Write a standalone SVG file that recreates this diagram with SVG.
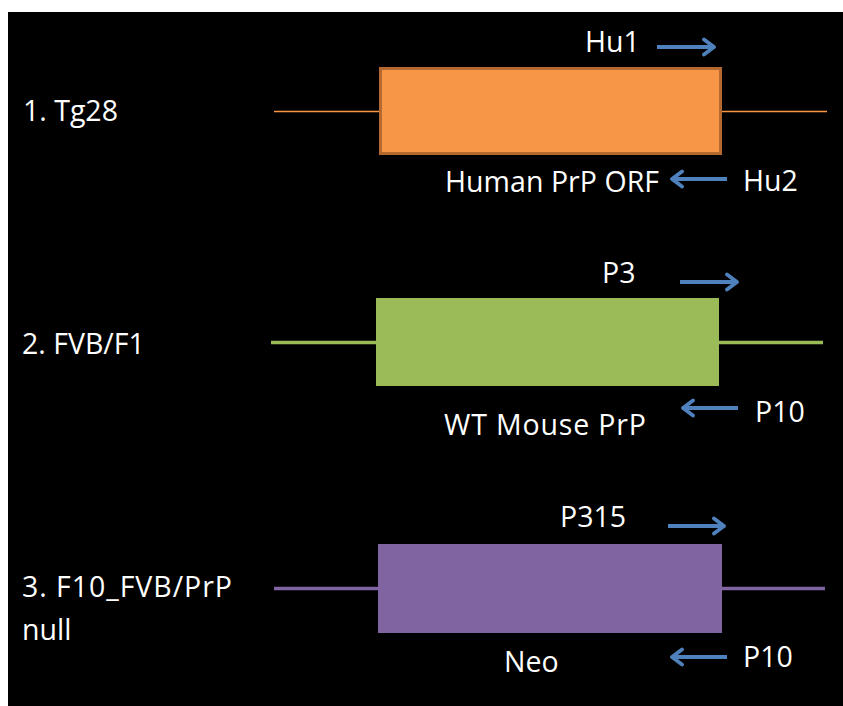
<svg xmlns="http://www.w3.org/2000/svg" width="843" height="706" viewBox="0 0 843 706">
  <defs>
    <style>
      .lbl { font-family: "Open Sans", "Liberation Sans", sans-serif; font-size: 28.5px; fill: #ffffff; }
      .arrow { stroke: #4f81bd; stroke-width: 4; fill: none; marker-end: url(#head); }
    </style>
    <marker id="head" viewBox="0 0 16 20" refX="13" refY="10" markerWidth="16" markerHeight="20" markerUnits="userSpaceOnUse" orient="auto">
      <path d="M3 2.5 L13 10 L3 17.5" fill="none" stroke="#4f81bd" stroke-width="3.8" stroke-linecap="round" stroke-linejoin="round"/>
    </marker>
  </defs>
  <rect x="0" y="0" width="843" height="706" fill="#ffffff"/>
  <rect x="8" y="12" width="835" height="694" fill="#000000"/>

  <!-- 1. Tg28 construct -->
  <g id="tg28">
    <line x1="274" y1="111.5" x2="827" y2="111.5" stroke="#f79646" stroke-width="1.5"/>
    <rect x="380.5" y="68.5" width="340" height="85" fill="#f79646" stroke="#b5692f" stroke-width="3"/>
    <text class="lbl" x="23" y="121">1. Tg28</text>
    <text class="lbl" x="445" y="192" textLength="214">Human PrP ORF</text>
    <text class="lbl" x="585" y="52">Hu1</text>
    <text class="lbl" x="743" y="191">Hu2</text>
  </g>

  <!-- 2. FVB/F1 construct -->
  <g id="fvb">
    <line x1="271" y1="342.5" x2="823" y2="342.5" stroke="#9bbb59" stroke-width="3.5"/>
    <rect x="376" y="298" width="343" height="88" fill="#9bbb59"/>
    <text class="lbl" x="22" y="354">2. FVB/F1</text>
    <text class="lbl" x="444" y="435" textLength="202">WT Mouse PrP</text>
    <text class="lbl" x="602" y="283">P3</text>
    <text class="lbl" x="755" y="422">P10</text>
  </g>

  <!-- 3. F10_FVB/PrP null construct -->
  <g id="prp-null">
    <line x1="274" y1="588.5" x2="825" y2="588.5" stroke="#8064a2" stroke-width="3.5"/>
    <rect x="378" y="544" width="344" height="89" fill="#8064a2"/>
    <text class="lbl" x="22" y="597" textLength="210">3. F10_FVB/PrP</text>
    <text class="lbl" x="22" y="640">null</text>
    <text class="lbl" x="504" y="672">Neo</text>
    <text class="lbl" x="560" y="527">P315</text>
    <text class="lbl" x="743" y="667">P10</text>
  </g>

  <!-- primer arrows -->
  <g id="connectors">
    <line class="arrow" x1="657" y1="47" x2="714" y2="47"/>
    <line class="arrow" x1="727" y1="179" x2="672" y2="179"/>
    <line class="arrow" x1="680" y1="282" x2="737" y2="282"/>
    <line class="arrow" x1="738" y1="408" x2="683" y2="408"/>
    <line class="arrow" x1="668" y1="526" x2="724" y2="526"/>
    <line class="arrow" x1="727" y1="657" x2="672" y2="657"/>
  </g>
</svg>
